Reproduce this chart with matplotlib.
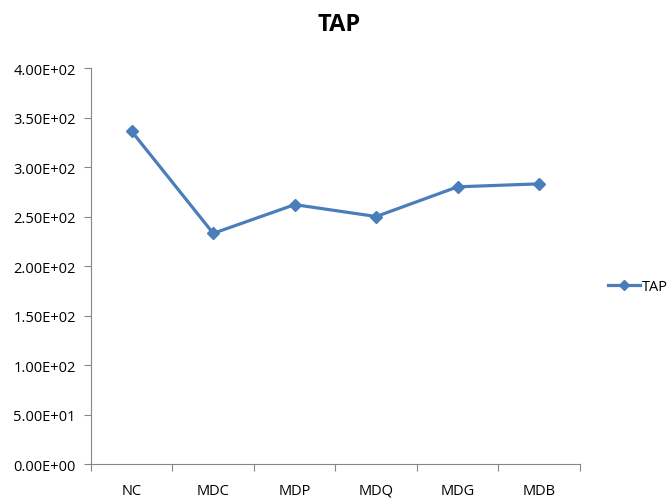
import numpy as np
import matplotlib.pyplot as plt
from matplotlib.ticker import FuncFormatter, FixedLocator

# 数据
categories = ['NC', 'MDC', 'MDP', 'MDQ', 'MDG', 'MDB']
tap_values = [336, 233, 262, 250, 280, 283]
y_ticks = [0, 50, 100, 150, 200, 250, 300, 350, 400]

plt.rcParams['font.family'] = ['Open Sans', 'DejaVu Sans']

fig = plt.figure(figsize=(6.72, 5.02), dpi=100)
ax = fig.add_axes([0.1354, 0.0737, 0.7276, 0.7888])

x = np.arange(len(categories))
line, = ax.plot(x, tap_values, color='#4A7EBB', linewidth=2.3,
                marker='D', markersize=6.5, label='TAP')

ax.set_xlim(-0.5, len(categories) - 0.5)
ax.set_ylim(0, 400)
ax.set_yticks(y_ticks)
ax.yaxis.set_major_formatter(FuncFormatter(lambda v, p: '{:.2E}'.format(v)))

# 类别之间的刻度线
ax.xaxis.set_major_locator(FixedLocator(np.arange(-0.5, len(categories), 1.0)))
ax.xaxis.set_major_formatter(FuncFormatter(lambda v, p: ''))
ax.xaxis.set_minor_locator(FixedLocator(x))
ax.set_xticklabels(categories, minor=True)
ax.tick_params(axis='x', which='minor', length=0, pad=13.5, labelsize=10.5)
ax.tick_params(axis='x', which='major', length=5, color='#868686')
ax.tick_params(axis='y', length=5, color='#868686', labelsize=10.5, pad=6)

for s in ['top', 'right']:
    ax.spines[s].set_visible(False)
for s in ['left', 'bottom']:
    ax.spines[s].set_color('#868686')

fig.suptitle('TAP', x=0.505, y=0.975, fontsize=17, fontweight='bold')

fig.legend(handles=[line], loc='center left', bbox_to_anchor=(0.885, 0.428),
           frameon=False, fontsize=10.5, handlelength=2.2, handletextpad=0.1,
           markerscale=0.8)

plt.savefig('out.png', dpi=100)
